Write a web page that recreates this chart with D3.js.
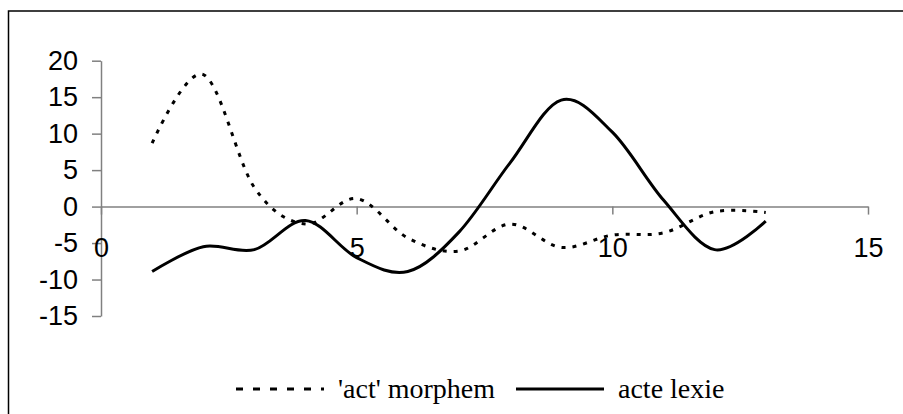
<!DOCTYPE html>
<html>
<head>
<meta charset="utf-8">
<script src="https://cdn.jsdelivr.net/npm/d3@7"></script>
<style>
  body { margin: 0; background: #fff; }
  svg { display: block; }
</style>
</head>
<body>
<main></main>
<script>
"use strict";

// values, x = 1..13
const xValues = [1, 2, 3, 4, 5, 6, 7, 8, 9, 10, 11, 12, 13];
const morphemValues = [8.7, 18.1, 2.6, -2.4, 1.1, -4.3, -6.1, -2.4, -5.6, -3.9, -3.6, -0.7, -0.8];
const lexieValues = [-8.9, -5.5, -5.9, -1.9, -7.0, -8.9, -3.5, 6.0, 14.6, 10.2, 0.9, -5.9, -2.0];
const xTicks = [0, 5, 10, 15];
const yTicks = [-15, -10, -5, 0, 5, 10, 15, 20];
const seriesNames = ["'act' morphem", "acte lexie"];

const svgWidth = 903;
const svgHeight = 414;

const svg = d3.select("main")
  .append("svg")
  .attr("width", svgWidth)
  .attr("height", svgHeight)
;

// outer frame (runs off the right and bottom edges)
svg.append("rect")
  .attr("x", 8.5)
  .attr("y", 11)
  .attr("width", 1000)
  .attr("height", 1000)
  .attr("fill", "none")
  .attr("stroke", "#000")
  .attr("stroke-width", 1.5)
;

const xScale = d3.scaleLinear()
  .domain([0, 15])
  .range([101, 868])
;
const yScale = d3.scaleLinear()
  .domain([-15, 20])
  .range([316, 60.7])
;

// plain hyphen for negatives, like the original
const plainFormat = d => String(d);

const yAxis = d3.axisLeft(yScale)
  .tickValues(yTicks)
  .tickFormat(plainFormat)
  .tickSize(9)
  .tickSizeOuter(0)
  .tickPadding(14)
;
const xAxis = d3.axisBottom(xScale)
  .tickValues(xTicks)
  .tickFormat(plainFormat)
  .tickSize(8)
  .tickSizeOuter(0)
  .tickPadding(23)
;

const gy = svg.append("g")
  .attr("transform", `translate(${xScale(0)}, 0)`)
  .call(yAxis)
;
const gx = svg.append("g")
  .attr("transform", `translate(0, ${yScale(0)})`)
  .call(xAxis)
;

[gx, gy].forEach(g => {
  g.select(".domain").attr("stroke", "#808080").attr("stroke-width", 1.5);
  g.selectAll(".tick line").attr("stroke", "#808080").attr("stroke-width", 1.5);
  g.selectAll(".tick text")
    .attr("fill", "#000")
    .style("font-family", "'Liberation Sans', Arial, sans-serif")
    .style("font-size", "27px")
  ;
});

const line = d3.line()
  .x(d => xScale(d[0]))
  .y(d => yScale(d[1]))
  .curve(d3.curveCatmullRom.alpha(0))
;

svg.append("path")
  .datum(xValues.map((x, i) => [x, morphemValues[i]]))
  .attr("d", line)
  .attr("fill", "none")
  .attr("stroke", "#000")
  .attr("stroke-width", 3)
  .attr("stroke-dasharray", "4 7")
;

svg.append("path")
  .datum(xValues.map((x, i) => [x, lexieValues[i]]))
  .attr("d", line)
  .attr("fill", "none")
  .attr("stroke", "#000")
  .attr("stroke-width", 3)
;

// legend
const legend = svg.append("g")
  .style("font-family", "'Liberation Serif', 'Times New Roman', serif")
  .style("font-size", "28px")
;
const legendItems = [
  { name: seriesNames[0], x: 236, dash: "7 10" },
  { name: seriesNames[1], x: 516, dash: null }
];
legendItems.forEach(item => {
  legend.append("line")
    .attr("x1", item.x)
    .attr("x2", item.x + 88)
    .attr("y1", 389)
    .attr("y2", 389)
    .attr("stroke", "#000")
    .attr("stroke-width", 3)
    .attr("stroke-dasharray", item.dash)
  ;
  legend.append("text")
    .attr("x", item.x + 102)
    .attr("y", 398)
    .text(item.name)
  ;
});
</script>
</body>
</html>
